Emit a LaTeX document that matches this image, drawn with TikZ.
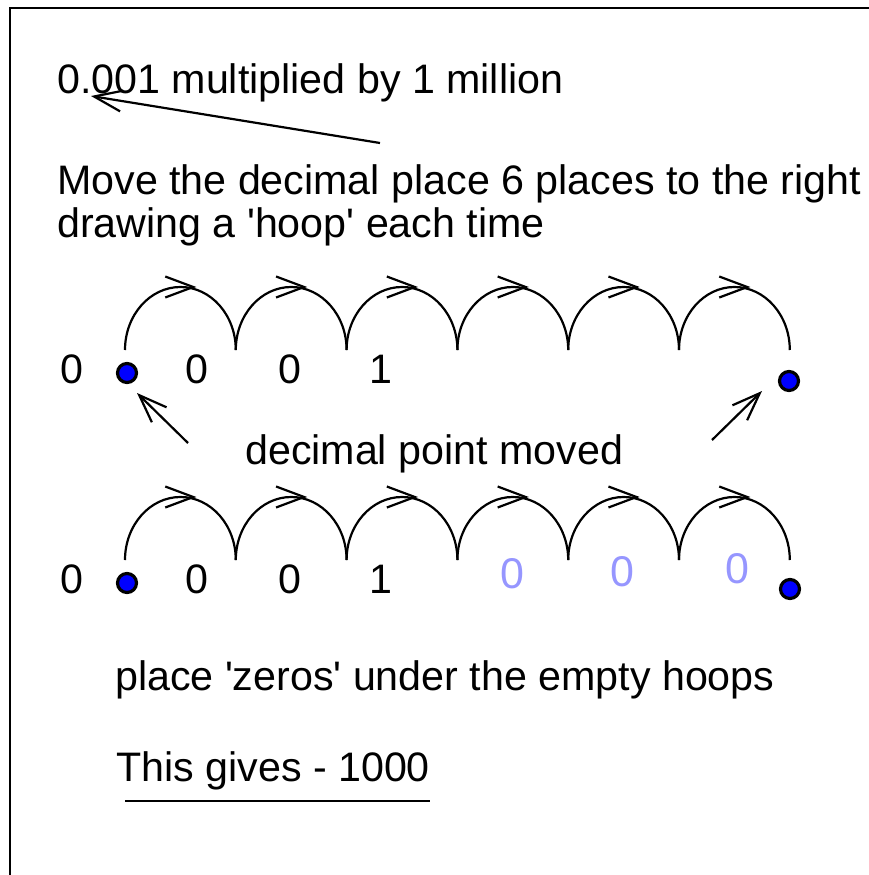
\documentclass[tikz,border=0pt]{standalone}
\usepackage{fontspec}
\setmainfont{Liberation Sans}
\usetikzlibrary{arrows.meta}
\definecolor{dotblue}{RGB}{0,0,255}
\definecolor{zeroblue}{RGB}{150,150,255}
\begin{document}
\begin{tikzpicture}[x=1pt,y=-1pt,
  txt/.style={anchor=base west,inner sep=0pt,font=\fontsize{41.2}{47}\selectfont},
  digit/.style={anchor=base,inner sep=0pt,font=\fontsize{41.2}{47}\selectfont},
  bluezero/.style={anchor=base,inner sep=0pt,text=zeroblue,font=\fontsize{43}{48}\selectfont},
  dot/.style={circle,draw=black,fill=dotblue,line width=3.2pt,minimum size=19pt,inner sep=0pt},
  hoop/.style={line width=2.2pt},
  barb/.style={line width=2.2pt,-{Straight Barb[length=28pt,width=21pt,line width=2.2pt]}},
  frame/.style={line width=2.5pt}]
\useasboundingbox (0,0) rectangle (869,875);
% frame
\coordinate (fbl) at (10,875);
\coordinate (ftl) at (10,8);
\coordinate (ftr) at (869,8);
\draw[frame] (fbl) -- (ftl) -- (ftr);
% texts
\node[txt] (title) at (57,93) {0.001 multiplied by 1 million};
\node[txt] (move) at (57,194) {Move the decimal place 6 places to the right};
\node[txt] (draw) at (57,237) {drawing a \textquotesingle hoop\textquotesingle\ each time};
\node[txt] (moved) at (245,464) {decimal point moved};
\node[txt] (place) at (115,690) {place \textquotesingle zeros\textquotesingle\ under the empty hoops};
\node[txt] (gives) at (116,781) {This gives - 1000};
% title arrow
\coordinate (ta) at (380,143);
\coordinate (tb) at (91,96);
\draw[barb] (ta) -- (tb);
% hoops
\foreach \r/\yb in {1/350,2/560}{
  \foreach \i in {0,...,5}{
    \draw[hoop] ({125+110.8*\i},\yb) arc[start angle=180,end angle=0,x radius=55.4pt,y radius=63pt];
    \draw[barb] ({125+110.8*\i+55.4+14},{\yb-63}) -- ++(2,0);
  }
}
% row 1
\node[digit] (r1a) at (72,383) {0};
\node[dot] (r1d) at (127,373) {};
\node[digit] (r1b) at (197,383) {0};
\node[digit] (r1c) at (290,383) {0};
\node[digit] (r1e) at (381,383) {1};
\node[dot] (r1f) at (789,381) {};
% moved arrows
\coordinate (la) at (188,443);
\coordinate (lb) at (137,393);
\draw[barb] (la) -- (lb);
\coordinate (ra) at (712,440);
\coordinate (rb) at (762,391);
\draw[barb] (ra) -- (rb);
% row 2
\node[digit] (r2a) at (72,593) {0};
\node[dot] (r2d) at (127,583) {};
\node[digit] (r2b) at (197,593) {0};
\node[digit] (r2c) at (290,593) {0};
\node[digit] (r2e) at (381,593) {1};
\node[bluezero] (z1) at (512,588) {0};
\node[bluezero] (z2) at (622,586) {0};
\node[bluezero] (z3) at (737,583) {0};
\node[dot] (r2f) at (790,589) {};
% underline
\coordinate (ua) at (125,801);
\coordinate (ub) at (430,801);
\draw[line width=2pt] (ua) -- (ub);
\end{tikzpicture}
\end{document}
